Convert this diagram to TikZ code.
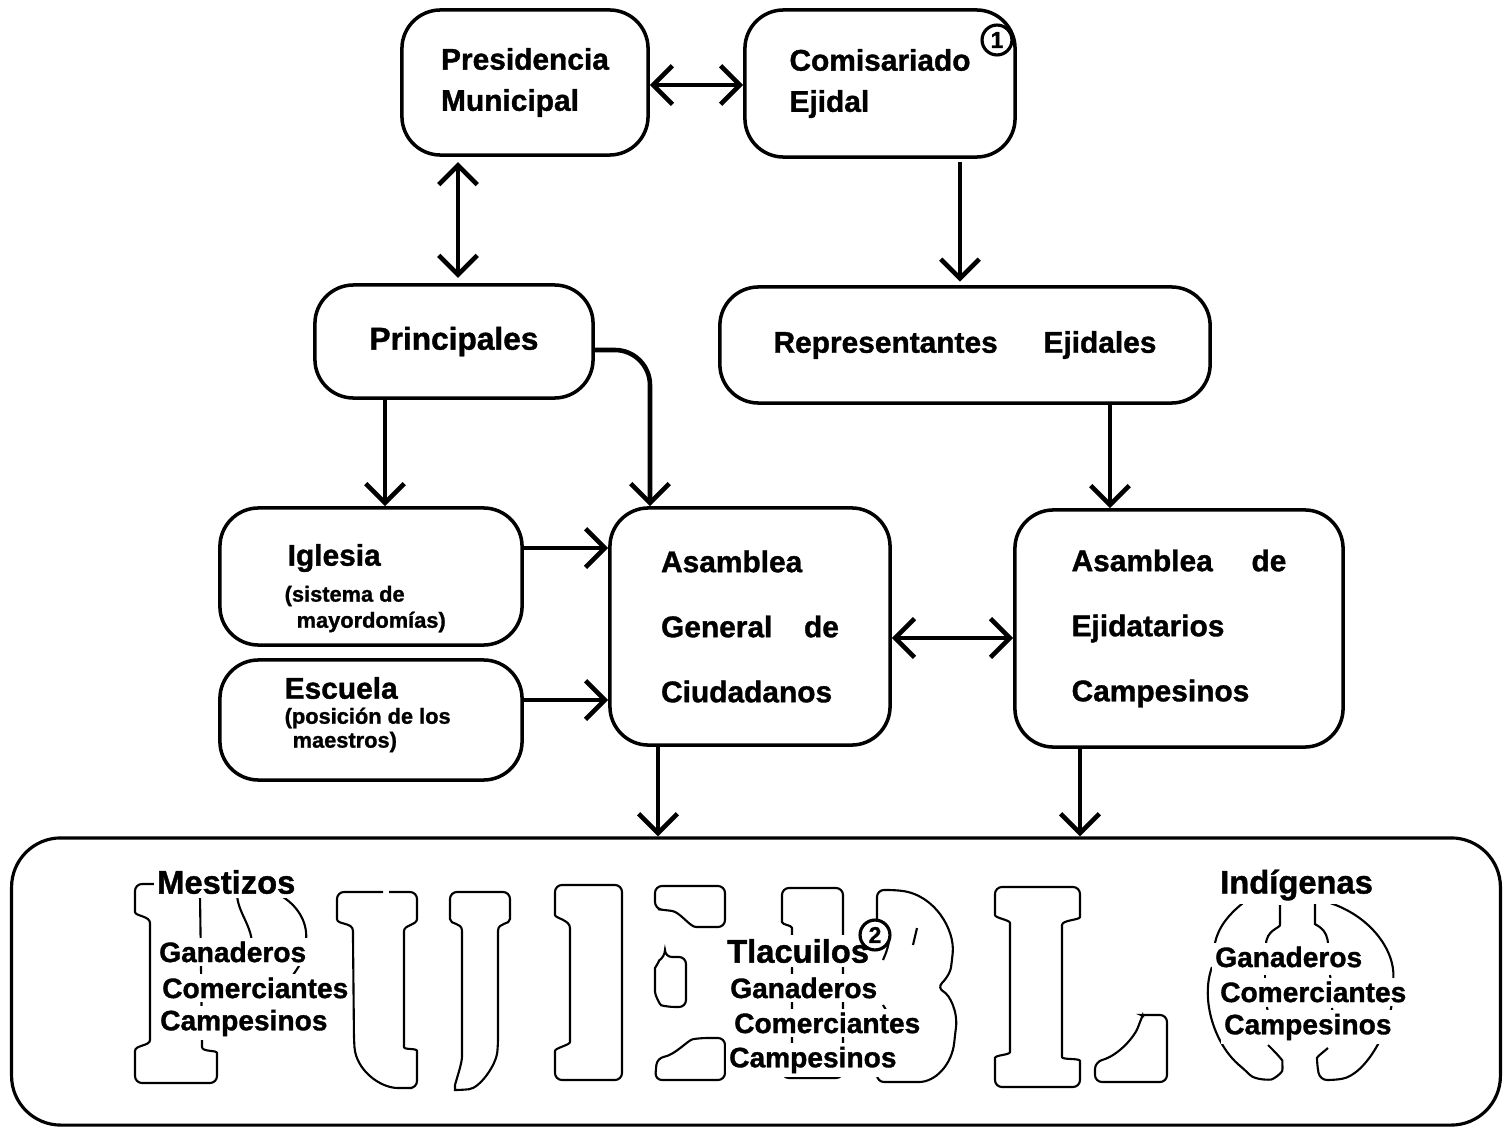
\documentclass[tikz,border=0pt]{standalone}
\usepackage{fontspec}
\setmainfont{Liberation Sans}[BoldFeatures={FakeBold=1.2}]
\usetikzlibrary{arrows.meta}

\begin{document}
\begin{tikzpicture}[x=0.01cm,y=-0.01cm,
    >={Straight Barb[length=5.5pt,width=11pt]},
    every node/.style={inner sep=0pt},
    caja/.style={draw,line width=1pt,rounded corners=11pt},
    flecha/.style={line width=1.3pt},
    letra/.style={line width=0.6pt,rounded corners=2pt},
    chico/.style={anchor=west,font=\fontsize{6.2}{6.2}\selectfont\bfseries},
    titulo/.style={anchor=west,fill=white,inner sep=1pt,font=\fontsize{9.3}{9.3}\selectfont\bfseries},
    rotulo/.style={anchor=west,fill=white,inner sep=1pt,font=\fontsize{8}{8}\selectfont\bfseries},
    numero/.style={draw,circle,fill=white,line width=0.9pt,minimum size=8.5pt,font=\fontsize{6.5}{6.5}\selectfont\bfseries}]
    \useasboundingbox (0,0) rectangle (1508,1127);

    % cajas
    \node[caja,minimum width=2.46cm,minimum height=1.45cm,align=left,font=\fontsize{8.5}{11.7}\selectfont\bfseries] (pres) at (525,82.5) {Presidencia\\Municipal};
    \node[caja,minimum width=2.70cm,minimum height=1.47cm,align=left,font=\fontsize{8.5}{11.7}\selectfont\bfseries] (com) at (880,83.5) {Comisariado\\Ejidal};
    \node[numero] (uno) at (997,40) {1};
    \node[caja,minimum width=2.78cm,minimum height=1.13cm,font=\fontsize{9}{9}\selectfont\bfseries] (princ) at (454,341.5) {Principales};
    \node[caja,minimum width=4.90cm,minimum height=1.16cm,font=\fontsize{8.5}{8.5}\selectfont\bfseries] (rep) at (965,345) {Representantes\hspace{13pt}Ejidales\hspace{3pt}};
    \node[caja,minimum width=3.02cm,minimum height=1.37cm] (igl) at (371,576.5) {};
    \node[caja,minimum width=3.02cm,minimum height=1.20cm] (esc) at (371,720) {};
    \node[caja,minimum width=2.80cm,minimum height=2.37cm,align=left,font=\fontsize{8.5}{18.5}\selectfont\bfseries] (asg) at (750,626.5) {Asamblea\\General\hspace{9pt}de\\Ciudadanos};
    \node[caja,minimum width=3.28cm,minimum height=2.37cm,align=left,font=\fontsize{8.5}{18.5}\selectfont\bfseries] (ase) at (1179,628.5) {Asamblea\hspace{11pt}de\\Ejidatarios\\Campesinos};
    \node[caja,line width=0.9pt,rounded corners=14pt,minimum width=14.88cm,minimum height=2.87cm] (pueblo) at (756,981.5) {};

    \node[anchor=west,font=\fontsize{8.5}{8.5}\selectfont\bfseries] (iglT) at (287,558) {Iglesia};
    \node[chico] (iglA) at (284,596) {(sistema de};
    \node[chico] (iglB) at (296,622) {mayordomías)};
    \node[anchor=west,font=\fontsize{8.5}{8.5}\selectfont\bfseries] (escT) at (284,688) {Escuela};
    \node[chico] (escA) at (284,718) {(posición de los};
    \node[chico] (escB) at (292,742) {maestros)};

    % flechas
    \draw[flecha,<->] (pres.east |- 0,85) -- (com.west |- 0,85);
    \draw[flecha,<->,shorten <=1.5pt,shorten >=1.5pt] (pres.south -| 458,0) -- (princ.north -| 458,0);
    \draw[flecha,->,shorten <=1pt,shorten >=1pt] (com.south -| 960,0) -- (rep.north -| 960,0);
    \draw[flecha,->] (princ.south -| 385,0) -- (igl.north -| 385,0);
    \draw[flecha,->,rounded corners=10pt] (princ.east |- 0,350) -| (asg.north -| 650,0);
    \draw[flecha,->] (rep.south -| 1110,0) -- (ase.north -| 1110,0);
    \draw[flecha,->] (igl.east |- 0,548) -- (asg.west |- 0,548);
    \draw[flecha,->] (esc.east |- 0,700) -- (asg.west |- 0,700);
    \draw[flecha,<->] (asg.east |- 0,638) -- (ase.west |- 0,638);
    \draw[flecha,->] (asg.south -| 658,0) -- (pueblo.north -| 658,0);
    \draw[flecha,->] (ase.south -| 1080,0) -- (pueblo.north -| 1080,0);

    % P
    \draw[letra] (155,884) -- (135,884) -- (135,905) .. controls (135,916) and (150,916) .. (150,930) -- (150,1033) .. controls (150,1046) and (135,1045) .. (135,1058) -- (135,1083) -- (217,1083) -- (217,1060) .. controls (217,1050) and (202,1052) .. (202,1040) -- (200,895);
    \draw[letra] (237,893) .. controls (237,912) and (252,925) .. (252,945);
    \draw[letra] (283,897) .. controls (300,908) and (308,925) .. (305,948) .. controls (303,960) and (298,968) .. (293,975);
    % U
    \draw[letra] (383,892) -- (337,892) -- (337,912) .. controls (337,925) and (353,922) .. (353,938) -- (354,1040) .. controls (356,1070) and (380,1088) .. (405,1088) -- (417,1088) -- (417,1058) .. controls (417,1048) and (404,1050) .. (404,1040) -- (404,938) .. controls (404,925) and (417,925) .. (417,912) -- (417,892) -- (389,892);
    \draw[letra] (450,892) -- (510,892) -- (510,912) .. controls (510,925) and (498,922) .. (498,938) -- (498,1045) .. controls (496,1065) and (480,1088) .. (462,1090) .. controls (455,1090) and (455,1085) .. (457,1078) .. controls (460,1068) and (462,1060) .. (462,1050) -- (462,938) .. controls (462,922) and (450,925) .. (450,912) -- cycle;
    % E
    \draw[letra] (555,885) -- (622,885) -- (622,1080) -- (555,1080) -- (555,1058) .. controls (555,1048) and (570,1045) .. (570,1035) -- (570,935) .. controls (570,920) and (555,918) .. (555,908) -- cycle;
    \draw[letra] (655,886) -- (725,886) -- (725,927) -- (703,927) .. controls (690,927) and (680,912) .. (665,910) -- (655,909) -- cycle;
    \draw[letra] (665,957) -- (686,957) -- (686,1007) -- (668,1007) .. controls (660,1005) and (655,995) .. (655,985) -- (655,975) .. controls (655,968) and (660,960) .. (665,957) -- cycle;
    \draw[letra] (657,1058) .. controls (675,1055) and (688,1040) .. (700,1038) -- (725,1038) -- (725,1080) -- (655,1080) -- cycle;
    % B
    \draw[letra] (782,888) -- (843,888) -- (843,1078) -- (782,1078) -- (782,1062) .. controls (782,1055) and (792,1058) .. (792,1048) -- (792,935) .. controls (792,925) and (782,925) .. (782,915) -- cycle;
    \draw[letra] (883,960) -- (888,948) .. controls (890,935) and (877,930) .. (877,922) -- (877,890) -- (895,890) .. controls (935,895) and (955,930) .. (952,960) .. controls (950,975) and (942,983) .. (937,988) .. controls (950,995) and (958,1012) .. (955,1035) .. controls (952,1065) and (935,1082) .. (912,1082) -- (877,1082) -- (877,1050);
    \draw[letra] (883,1005) -- (897,1028);
    \draw[letra] (917,928) -- (913,945);
    % L
    \draw[letra] (995,887) -- (1080,887) -- (1080,910) .. controls (1080,920) and (1062,920) .. (1062,932) -- (1062,1050) .. controls (1062,1060) and (1080,1058) .. (1080,1068) -- (1080,1087) -- (995,1087) -- (995,1065) .. controls (995,1055) and (1010,1055) .. (1010,1045) -- (1010,930) .. controls (1010,920) and (995,918) .. (995,908) -- cycle;
    \draw[letra] (1095,1062) .. controls (1120,1055) and (1135,1035) .. (1140,1022) .. controls (1142,1017) and (1144,1015) .. (1148,1015) -- (1167,1015) -- (1167,1082) -- (1095,1082) -- cycle;
    % O
    \draw[letra] (1243,903) .. controls (1228,915) and (1218,928) .. (1215,943);
    \draw[letra] (1212,967) .. controls (1200,1000) and (1215,1045) .. (1245,1070) .. controls (1255,1080) and (1270,1080) .. (1278,1077) .. controls (1283,1070) and (1282,1060) .. (1278,1055) -- (1268,1045);
    \draw[letra] (1280,905) -- (1280,918) .. controls (1280,928) and (1266,930) .. (1266,945);
    \draw[letra] (1265,975) -- (1265,982);
    \draw[letra] (1267,1007) -- (1268,1013);
    \draw[letra] (1327,902) .. controls (1370,915) and (1395,950) .. (1393,985) .. controls (1392,1030) and (1365,1075) .. (1335,1080) -- (1320,1080) -- (1317,1065) .. controls (1317,1057) and (1322,1053) .. (1328,1048);
    \draw[letra] (1315,903) -- (1315,917) .. controls (1315,925) and (1328,928) .. (1328,945);
    \draw[letra] (1330,975) -- (1331,982);
    \draw[letra] (1332,1008) -- (1333,1015);

    % textos del pueblo
    \node[titulo] (mest) at (153,882) {Mestizos};
    \node[rotulo] (ganM) at (155,952) {Ganaderos};
    \node[rotulo] (comM) at (158,988) {Comerciantes};
    \node[rotulo] (camM) at (156,1023) {Campesinos};
    \node[titulo] (tlac) at (723,951) {Tlacuilos};
    \node[numero] (dos) at (875,935) {2};
    \node[rotulo] (ganT) at (726,988) {Ganaderos};
    \node[rotulo] (comT) at (730,1023) {Comerciantes};
    \node[rotulo] (camT) at (725,1060) {Campesinos};
    \node[titulo] (indi) at (1216,885) {Indígenas};
    \node[rotulo] (ganI) at (1211,957) {Ganaderos};
    \node[rotulo] (comI) at (1216,992) {Comerciantes};
    \node[rotulo] (camI) at (1220,1027) {Campesinos};
\end{tikzpicture}
\end{document}
